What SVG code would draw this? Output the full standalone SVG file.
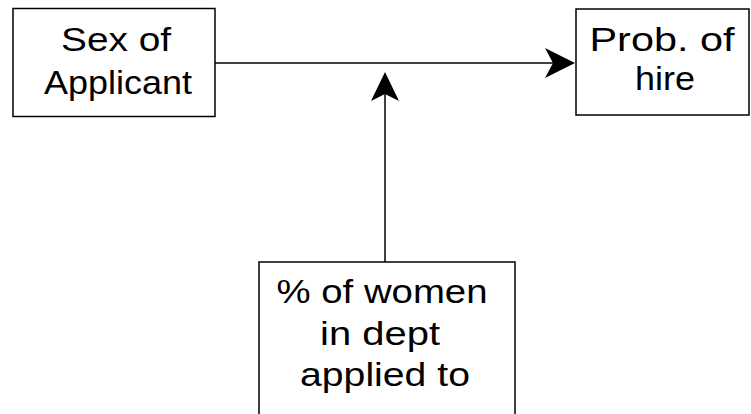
<svg xmlns="http://www.w3.org/2000/svg" width="751" height="414" viewBox="0 0 751 414">
<style>
.box{fill:#fff;stroke:#000;stroke-width:1.5}
.t{font-family:"Liberation Sans",Arial,sans-serif;font-size:33px;fill:#000;text-anchor:middle}
.ln{stroke:#000;stroke-width:1.5;fill:none}
.ah{fill:#000}
</style>
<rect width="751" height="414" fill="#fff"/>
<g id="connectors">
<line class="ln" x1="215" y1="63" x2="560" y2="63"/>
<path class="ah" d="M575,63 L545,48 L553,63 L545,78 Z"/>
<line class="ln" x1="385" y1="262" x2="385" y2="90"/>
<path class="ah" d="M385,72 L371,101 L385,94 L399,101 Z"/>
</g>
<g id="sex">
<rect class="box" x="13" y="8.5" width="202" height="108"/>
<text class="t" x="116" y="51" textLength="110" lengthAdjust="spacingAndGlyphs">Sex of</text>
<text class="t" x="118" y="94" textLength="148" lengthAdjust="spacingAndGlyphs">Applicant</text>
</g>
<g id="prob">
<rect class="box" x="576" y="9" width="173" height="106"/>
<text class="t" x="662" y="51" textLength="145" lengthAdjust="spacingAndGlyphs">Prob. of</text>
<text class="t" x="665" y="90" textLength="60" lengthAdjust="spacingAndGlyphs">hire</text>
</g>
<g id="women">
<rect class="box" x="259" y="262" width="256" height="160"/>
<text class="t" x="382" y="303" textLength="211" lengthAdjust="spacingAndGlyphs">% of women</text>
<text class="t" x="380" y="345" textLength="120" lengthAdjust="spacingAndGlyphs">in dept</text>
<text class="t" x="385" y="386" textLength="170" lengthAdjust="spacingAndGlyphs">applied to</text>
</g>
</svg>
